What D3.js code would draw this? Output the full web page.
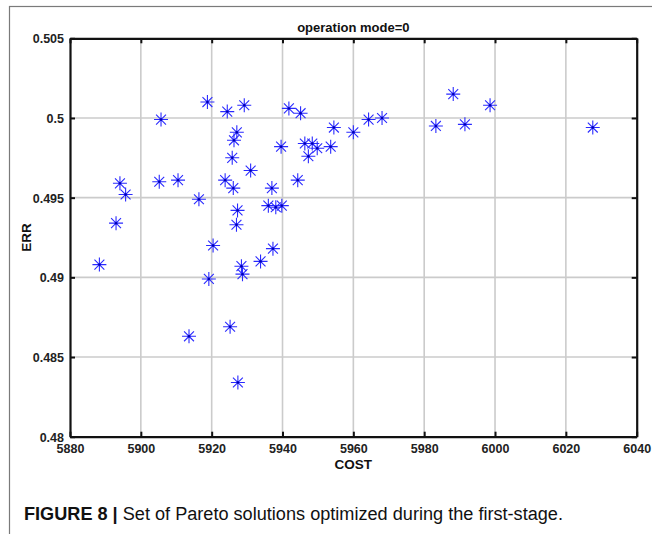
<!DOCTYPE html>
<html>
<head>
<meta charset="utf-8">
<script src="https://cdn.jsdelivr.net/npm/d3@7"></script>
<style>
  body { margin: 0; background: #fff; }
  svg { display: block; }
</style>
</head>
<body>
<svg id="chart"></svg>
<script>
// Pareto solutions (COST, ERR)
var cost = [5888.3, 5893.0, 5894.1, 5895.7, 5905.2, 5905.7, 5910.5, 5913.6, 5916.4, 5918.8,
            5919.2, 5920.4, 5923.8, 5924.4, 5925.2, 5925.8, 5926.1, 5926.3, 5927.1, 5927.3,
            5927.0, 5927.4, 5928.4, 5928.7, 5929.2, 5931.0, 5933.8, 5936.0, 5937.0, 5937.3,
            5938.1, 5939.6, 5939.8, 5941.8, 5944.3, 5945.1, 5946.3, 5947.3, 5948.4, 5949.8,
            5953.6, 5954.5, 5960.0, 5964.3, 5968.1, 5983.3, 5988.2, 5991.5, 5998.6, 6027.6];
var err = [0.4908, 0.4934, 0.4959, 0.4952, 0.4960, 0.4999, 0.4961, 0.4863, 0.4949, 0.5010,
           0.4899, 0.4920, 0.4961, 0.5004, 0.4869, 0.4975, 0.4956, 0.4986, 0.4991, 0.4942,
           0.4933, 0.4834, 0.4907, 0.4902, 0.5008, 0.4967, 0.4910, 0.4945, 0.4956, 0.4918,
           0.4944, 0.4982, 0.4945, 0.5006, 0.4961, 0.5003, 0.4984, 0.4976, 0.4984, 0.4981,
           0.4982, 0.4994, 0.4991, 0.4999, 0.5000, 0.4995, 0.5015, 0.4996, 0.5008, 0.4994];

var xTicks = [5880, 5900, 5920, 5940, 5960, 5980, 6000, 6020, 6040];
var yTicks = [0.48, 0.485, 0.49, 0.495, 0.5, 0.505];
var yTickLabels = ["0.48", "0.485", "0.49", "0.495", "0.5", "0.505"];

var width = 652, height = 534;
var plot = { left: 70, right: 636.7, top: 38.3, bottom: 436.7 };
var font = '"Liberation Sans", Arial, sans-serif';

var svg = d3.select('#chart')
    .attr('width', width)
    .attr('height', height);

svg.append('rect')
    .attr('width', width).attr('height', height)
    .attr('fill', '#fff');

// grey page frame (left and top edges visible)
svg.append('rect')
    .attr('x', 9.5).attr('y', 6.5)
    .attr('width', 700).attr('height', 600)
    .attr('fill', 'none')
    .attr('stroke', '#7a7a7a')
    .attr('stroke-width', 1.2);

var x = d3.scaleLinear().domain([5880, 6040]).range([plot.left, plot.right]);
var y = d3.scaleLinear().domain([0.48, 0.505]).range([plot.bottom, plot.top]);

// grid
var grid = svg.append('g').attr('class', 'grid');
grid.selectAll('line.gx')
    .data(xTicks.slice(1, -1))
    .enter().append('line')
      .attr('x1', function(d) { return x(d); })
      .attr('x2', function(d) { return x(d); })
      .attr('y1', plot.top).attr('y2', plot.bottom)
      .attr('stroke', '#cbcbcb').attr('stroke-width', 1.6);
grid.selectAll('line.gy')
    .data(yTicks.slice(1, -1))
    .enter().append('line')
      .attr('y1', function(d) { return y(d); })
      .attr('y2', function(d) { return y(d); })
      .attr('x1', plot.left).attr('x2', plot.right)
      .attr('stroke', '#cbcbcb').attr('stroke-width', 1.6);

// axes (ticks pointing inwards, box on all sides)
var axBottom = svg.append('g')
    .attr('transform', 'translate(0,' + plot.bottom + ')')
    .call(d3.axisBottom(x).tickValues(xTicks).tickSize(-5).tickSizeOuter(0).tickPadding(7)
          .tickFormat(d3.format('d')));
var axTop = svg.append('g')
    .attr('transform', 'translate(0,' + plot.top + ')')
    .call(d3.axisTop(x).tickValues(xTicks).tickSize(-5).tickSizeOuter(0).tickFormat(''));
var axLeft = svg.append('g')
    .attr('transform', 'translate(' + plot.left + ',0)')
    .call(d3.axisLeft(y).tickValues(yTicks).tickSize(-5).tickSizeOuter(0).tickPadding(6)
          .tickFormat(function(d, i) { return yTickLabels[i]; }));
var axRight = svg.append('g')
    .attr('transform', 'translate(' + plot.right + ',0)')
    .call(d3.axisRight(y).tickValues(yTicks).tickSize(-5).tickSizeOuter(0).tickFormat(''));

[axBottom, axTop, axLeft, axRight].forEach(function(a) {
    a.attr('font-family', font).attr('font-size', 12.5).attr('font-weight', 'bold');
    a.select('.domain').attr('stroke', '#111').attr('stroke-width', 2.2);
    a.selectAll('.tick line').attr('stroke', '#111').attr('stroke-width', 2);
    a.selectAll('.tick text').attr('fill', '#222');
});
axBottom.selectAll('.tick text').attr('dy', '0.72em');
axLeft.selectAll('.tick text').attr('dy', '0.35em');

// asterisk marker (+ and x)
function asterisk(r) {
    var d = r * Math.SQRT1_2;
    return 'M' + (-r) + ',0L' + r + ',0' +
           'M0,' + (-r) + 'L0,' + r +
           'M' + (-d) + ',' + (-d) + 'L' + d + ',' + d +
           'M' + (-d) + ',' + d + 'L' + d + ',' + (-d);
}

var pts = cost.map(function(c, i) { return { cost: c, err: err[i] }; });
svg.append('g').attr('class', 'points')
    .selectAll('path')
    .data(pts)
    .enter().append('path')
      .attr('transform', function(d) { return 'translate(' + x(d.cost) + ',' + y(d.err) + ')'; })
      .attr('d', asterisk(7))
      .attr('fill', 'none')
      .attr('stroke', '#2a2aff')
      .attr('stroke-width', 1.1);
svg.append('g')
    .selectAll('circle')
    .data(pts)
    .enter().append('circle')
      .attr('cx', function(d) { return x(d.cost); })
      .attr('cy', function(d) { return y(d.err); })
      .attr('r', 1.2)
      .attr('fill', '#0000b0');

// titles
var cx = (plot.left + plot.right) / 2;
svg.append('text')
    .attr('x', cx).attr('y', 32)
    .attr('text-anchor', 'middle')
    .style('font-family', font)
    .style('font-weight', 'bold').style('font-size', '13px').style('fill', '#111')
    .text('operation mode=0');
svg.append('text')
    .attr('x', cx).attr('y', 469)
    .attr('text-anchor', 'middle')
    .style('font-family', font)
    .style('font-weight', 'bold').style('font-size', '13.5px').style('fill', '#111')
    .text('COST');
svg.append('text')
    .attr('transform', 'translate(31,' + ((plot.top + plot.bottom) / 2) + ') rotate(-90)')
    .attr('text-anchor', 'middle')
    .style('font-family', font)
    .style('font-weight', 'bold').style('font-size', '13.5px').style('fill', '#111')
    .text('ERR');

// figure caption
var cap = svg.append('text')
    .attr('x', 24).attr('y', 520)
    .attr('textLength', 539)
    .attr('lengthAdjust', 'spacingAndGlyphs')
    .style('font-family', font)
    .style('font-size', '18px').style('fill', '#111');
cap.append('tspan').style('font-weight', 'bold').text('FIGURE 8 | ');
cap.append('tspan').text('Set of Pareto solutions optimized during the first-stage.');
</script>
</body>
</html>
